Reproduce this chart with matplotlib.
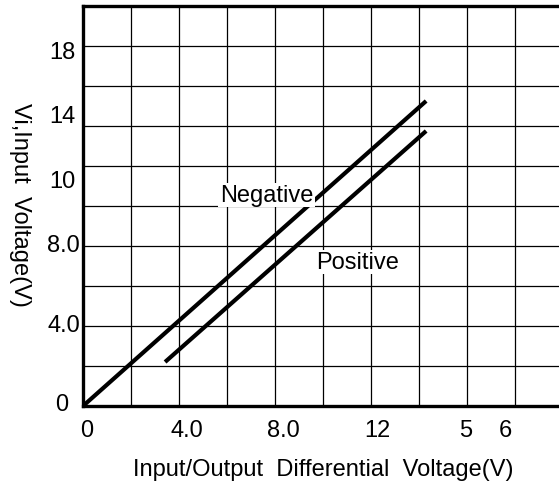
import matplotlib
matplotlib.use("Agg")
import matplotlib.pyplot as plt

plt.rcParams['font.family'] = ['Liberation Sans', 'DejaVu Sans']

# Data
neg_x = [0.0, 14.3]
neg_y = [0.0, 15.25]
pos_x = [3.42, 14.3]
pos_y = [2.2, 13.75]

x_tick_labels = ["0", "4.0", "8.0", "12", "5", "6"]
x_tick_pos = [0.17, 4.33, 8.33, 12.25, 15.96, 17.6]
y_tick_labels = ["18", "14", "10", "8.0", "4.0", "0"]
y_tick_pos = [17.7, 14.5, 11.25, 8.05, 4.05, 0.1]
y_tick_xpos = [-0.3, -0.3, -0.3, -0.12, -0.12, -0.62]

FS = 17

fig = plt.figure(figsize=(5.59, 4.89), dpi=100)
ax = fig.add_axes([0.1485, 0.1677, 0.8585, 0.818])
ax.set_xlim(0, 20)
ax.set_ylim(0, 20)
ax.set_xticks(range(0, 21, 2))
ax.set_yticks(range(0, 21, 2))
ax.tick_params(length=0, labelbottom=False, labelleft=False)
ax.grid(True, color='black', linewidth=0.9)
for s in ['left', 'bottom', 'top']:
    ax.spines[s].set_linewidth(2.4)
ax.spines['right'].set_visible(False)

ax.plot(neg_x, neg_y, color='black', linewidth=3.0, solid_capstyle='butt')
ax.plot(pos_x, pos_y, color='black', linewidth=3.0, solid_capstyle='butt')

box = dict(facecolor='white', edgecolor='none', pad=1.0)
ax.text(5.7, 10.55, "Negative", fontsize=FS, ha='left', va='center', bbox=box, zorder=5)
ax.text(9.7, 7.2, "Positive", fontsize=FS, ha='left', va='center', bbox=box, zorder=5)

for lab, xp in zip(x_tick_labels, x_tick_pos):
    ax.text(xp, -1.2, lab, fontsize=FS, ha='center', va='center', clip_on=False)
for lab, yp, xp in zip(y_tick_labels, y_tick_pos, y_tick_xpos):
    ax.text(xp, yp, lab, fontsize=FS, ha='right', va='center', clip_on=False)

fig.text(323 / 559, 1 - 470 / 489, "Input/Output  Differential  Voltage(V)",
         fontsize=FS, ha='center', va='center')
fig.text(20 / 559, 1 - 205 / 489, "Vi,Input  Voltage(V)", fontsize=FS,
         ha='center', va='center', rotation=270)

fig.savefig("out.png", dpi=100)
